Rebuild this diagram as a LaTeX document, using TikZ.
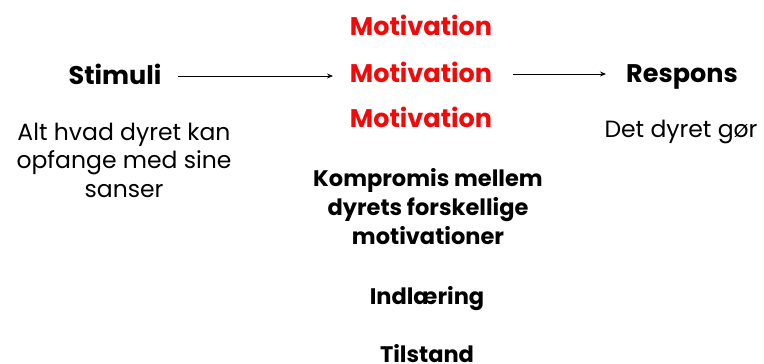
\documentclass[tikz,border=0pt]{standalone}
\usepackage{fontspec}
\setmainfont{Poppins}
\usetikzlibrary{arrows.meta}
\definecolor{motred}{RGB}{240,10,10}
\begin{document}
\begin{tikzpicture}[x=1pt,y=-1pt,
  head/.style={font=\bfseries\fontsize{25.5}{30}\selectfont, inner sep=0pt, anchor=base},
  motiv/.style={head, text=motred},
  desc/.style={font=\fontsize{23.5}{28.5}\selectfont, inner sep=0pt, align=center},
  bdesc/.style={font=\bfseries\fontsize{22.5}{29}\selectfont, inner sep=0pt, align=center},
  conn/.style={-{Stealth[length=6pt,width=5pt]}, line width=0.8pt}]
\useasboundingbox (0,0) rectangle (764,364);
\node[head] (stim) at (115,84) {Stimuli};
\node[motiv] (m1) at (421,35) {Motivation};
\node[motiv] (m2) at (421,82) {Motivation};
\node[motiv] (m3) at (421,127) {Motivation};
\node[head] (resp) at (682,82) {Respons};
\node[desc] (alt) at (124,160) {Alt hvad dyret kan\\opfange med sine\\sanser};
\node[desc, anchor=base] (det) at (681,137) {Det dyret gør};
\node[bdesc] (komp) at (428,207) {Kompromis mellem\\dyrets forskellige\\motivationer};
\node[bdesc, anchor=base] (ind) at (427,304) {Indlæring};
\node[bdesc, anchor=base] (til) at (427,362) {Tilstand};
\coordinate (a1s) at (178,76);
\coordinate (a1e) at (333,76);
\draw[conn] (a1s) -- (a1e);
\coordinate (a2s) at (513,74);
\coordinate (a2e) at (606,74);
\draw[conn] (a2s) -- (a2e);
\end{tikzpicture}
\end{document}
